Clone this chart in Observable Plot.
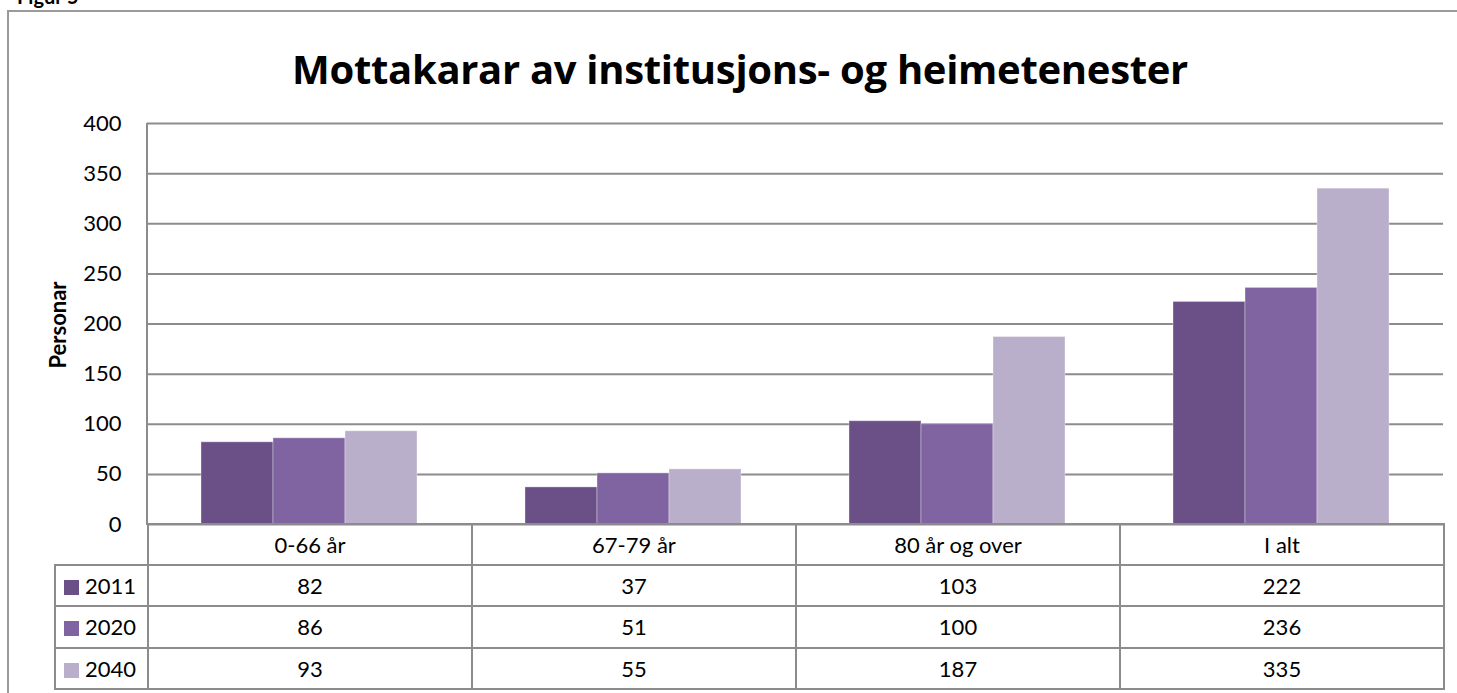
<!DOCTYPE html>
<html>
<head>
<meta charset="utf-8">
<script src="https://cdn.jsdelivr.net/npm/d3@7"></script>
<script src="https://cdn.jsdelivr.net/npm/@observablehq/plot@0.6"></script>
<style>
  html, body { margin: 0; padding: 0; background: #fff; }
  body { width: 1457px; height: 693px; overflow: hidden; position: relative; font-family: Lato, "Open Sans", sans-serif; color: #000; }
  #figlabel { position: absolute; left: 17px; top: -14px; font-size: 20px; line-height: 20px; font-weight: bold; }
  #frame { position: absolute; left: 7px; top: 10px; width: 1470px; height: 720px; border: 2px solid #9a9a9a; box-sizing: border-box; }
  #title { position: absolute; left: 0; width: 1480px; top: 49px; text-align: center; font-family: "Open Sans", Lato, sans-serif; font-size: 40px; line-height: 40px; font-weight: bold; letter-spacing: -0.3px; }
  #chart { position: absolute; left: 0; top: 0; }
  #axisline { position: absolute; left: 146px; top: 123px; width: 2px; height: 402px; background: #8c8c8c; }
  #ylabel { position: absolute; left: 58px; top: 325px; transform: translate(-50%, -50%) rotate(-90deg); font-size: 22px; font-weight: bold; white-space: nowrap; line-height: 22px; }
  #tbl { position: absolute; left: 54px; top: 523px; border-collapse: collapse; table-layout: fixed; font-size: 22px; }
  #tbl td { border: 2px solid #8c8c8c; text-align: center; padding: 0; height: 39.5px; }
  #tbl tr.hdr td { height: 38.5px; }
  #tbl td.corner { border-top: none; border-left: none; }
  #tbl td.key { text-align: left; padding-left: 8px; white-space: nowrap; }
  .sw { display: inline-block; width: 15px; height: 15px; margin-right: 6px; vertical-align: -1px; }
</style>
</head>
<body>
<div id="figlabel">Figur 5</div>
<div id="frame"></div>
<div id="chart"></div>
<div id="axisline"></div>
<div id="title">Mottakarar av institusjons- og heimetenester</div>
<div id="ylabel">Personar</div>
<table id="tbl"></table>
<script>
const categories = ["0-66 år", "67-79 år", "80 år og over", "I alt"];
const years = ["2011", "2020", "2040"];
const values2011 = [82, 37, 103, 222];
const values2020 = [86, 51, 100, 236];
const values2040 = [93, 55, 187, 335];
const yTicks = [0, 50, 100, 150, 200, 250, 300, 350, 400];
const colors = ["#6a5087", "#8064a2", "#b9afcb"];

const series = [values2011, values2020, values2040];
const data = categories.flatMap((c, i) => years.map((y, j) => ({cat: c, year: y, value: series[j][i]})));

const plot = Plot.plot({
  width: 1457,
  height: 525,
  marginLeft: 147,
  marginRight: 14,
  marginTop: 123,
  marginBottom: 1,
  style: {fontFamily: "Lato, 'Open Sans', sans-serif", fontSize: "22px", color: "#000", background: "transparent", overflow: "visible"},
  facet: {data, x: "cat"},
  fx: {domain: categories, padding: 0, axis: null},
  x: {domain: years, paddingInner: 0, paddingOuter: 0.75, axis: null},
  y: {domain: [0, 400], ticks: yTicks, tickSize: 0, tickPadding: 26, tickFormat: d => String(d), label: null},
  color: {domain: years, range: colors},
  marks: [
    Plot.ruleY(yTicks, {stroke: "#8c8c8c", strokeWidth: 2}),
    Plot.barY(data, {x: "year", y: "value", fill: "year", stroke: "#ffffff", strokeOpacity: 0.35, strokeWidth: 1})
  ]
});
document.getElementById("chart").appendChild(plot);

// data table built from the same arrays
const tbl = document.getElementById("tbl");
const colgroup = document.createElement("colgroup");
[93, ...categories.map(() => 324)].forEach(w => {
  const col = document.createElement("col");
  col.style.width = w + "px";
  colgroup.appendChild(col);
});
tbl.appendChild(colgroup);
const head = document.createElement("tr");
head.className = "hdr";
const corner = document.createElement("td");
corner.className = "corner";
head.appendChild(corner);
categories.forEach(c => {
  const td = document.createElement("td");
  td.textContent = c;
  head.appendChild(td);
});
tbl.appendChild(head);
years.forEach((y, j) => {
  const tr = document.createElement("tr");
  const key = document.createElement("td");
  key.className = "key";
  const sw = document.createElement("span");
  sw.className = "sw";
  sw.style.background = colors[j];
  key.appendChild(sw);
  key.appendChild(document.createTextNode(y));
  tr.appendChild(key);
  series[j].forEach(v => {
    const td = document.createElement("td");
    td.textContent = v;
    tr.appendChild(td);
  });
  tbl.appendChild(tr);
});
</script>
</body>
</html>
